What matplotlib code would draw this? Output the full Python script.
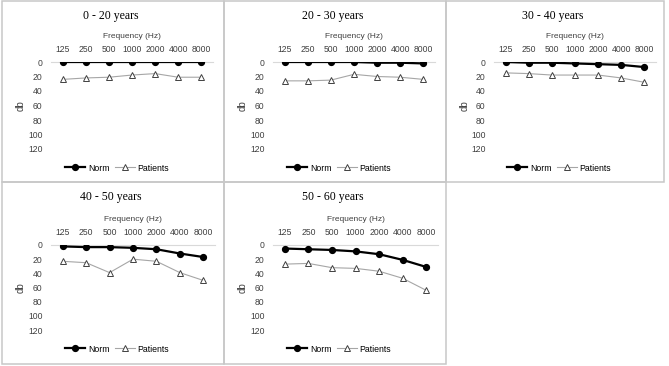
import matplotlib
matplotlib.use("Agg")
import matplotlib.pyplot as plt
from matplotlib.patches import Rectangle
from matplotlib.lines import Line2D

W, H = 669, 366

freqs = ["125", "250", "500", "1000", "2000", "4000", "8000"]
titles = ["0 - 20 years", "20 - 30 years", "30 - 40 years", "40 - 50 years", "50 - 60 years"]

norm_0_20 = [0, 0, 0, 0, 0, 0, 0]
pat_0_20 = [24, 22, 21, 18, 16, 21, 21]
norm_20_30 = [0, 0, 0, 0, 1, 1, 2]
pat_20_30 = [26, 26, 25, 17, 20, 21, 24]
norm_30_40 = [0, 1, 1, 2, 3, 4, 7]
pat_30_40 = [15, 16, 18, 18, 18, 22, 28]
norm_40_50 = [2, 3, 3, 4, 6, 12, 17]
pat_40_50 = [23, 25, 39, 20, 23, 39, 50]
norm_50_60 = [5, 6, 7, 9, 13, 21, 31]
pat_50_60 = [27, 26, 32, 33, 37, 47, 64]

norm_all = [norm_0_20, norm_20_30, norm_30_40, norm_40_50, norm_50_60]
pat_all = [pat_0_20, pat_20_30, pat_30_40, pat_40_50, pat_50_60]

# panel boxes in pixels: (left, top, right, bottom)
boxes = [(2, 1, 224, 182), (224, 1, 446, 182), (446, 1, 664, 182),
         (2, 182, 224, 364), (224, 182, 446, 364)]
# plot area in pixels: (left, top of 0-line, right, y of 120)
plots = [(51, 62, 213, 149), (273, 62, 435, 149), (494, 62, 656, 149),
         (51, 245, 215, 330), (273, 245, 438, 330)]

fig = plt.figure(figsize=(W / 100, H / 100), dpi=100)

def fx(px):
    return px / W

def fy(py):
    return 1 - py / H

for i in range(5):
    bl, bt, br, bb = boxes[i]
    fig.add_artist(Rectangle((fx(bl), fy(bb)), fx(br - bl), (bb - bt) / H,
                             transform=fig.transFigure, fill=False,
                             ec="#c8c8c8", lw=1.1))

    l, t, r, b = plots[i]
    ax = fig.add_axes([fx(l), fy(b), fx(r - l), (b - t) / H])
    x = range(len(freqs))
    ax.plot(x, norm_all[i], color="black", lw=1.6, marker="o", ms=4.2,
            zorder=3)
    ax.plot(x, pat_all[i], color="#a6a6a6", lw=0.8, marker="^", ms=4.2,
            mfc="white", mec="#404040", mew=0.7, zorder=2)
    ax.set_xlim(-0.5, 6.5)
    ax.set_ylim(120, 0)
    ax.set_yticks([0, 20, 40, 60, 80, 100, 120])
    ax.set_xticks(list(x))
    ax.set_xticklabels(freqs)
    ax.xaxis.tick_top()
    ax.xaxis.set_label_position("top")
    ax.set_xlabel("Frequency (Hz)", fontsize=6, family="Liberation Sans",
                  color="#404040", labelpad=5)
    ax.tick_params(length=0, labelsize=6.2, colors="#404040", pad=6)
    for lab in ax.get_xticklabels() + ax.get_yticklabels():
        lab.set_family("Liberation Sans")
    for s in ["left", "right", "bottom"]:
        ax.spines[s].set_visible(False)
    ax.spines["top"].set_color("#d9d9d9")
    ax.spines["top"].set_linewidth(0.8)
    ax.patch.set_alpha(0)

    cx = (bl + br) / 2
    fig.text(fx(cx - 2), fy(bt + 15), titles[i], ha="center", va="center",
             fontsize=8.5, family="Liberation Serif")
    fig.text(fx(bl + 19), fy((t + b) / 2), "db", rotation=90, ha="center",
             va="center", fontsize=7, family="Liberation Sans", color="#404040")

    handles = [Line2D([], [], color="black", lw=1.6, marker="o", ms=4.2),
               Line2D([], [], color="#a6a6a6", lw=0.8, marker="^", ms=4.2,
                      mfc="white", mec="#404040", mew=0.7)]
    fig.legend(handles, ["Norm", "Patients"], loc="center",
               bbox_to_anchor=(fx(cx + 4), fy(bt + 167)), ncol=2,
               frameon=False, handlelength=2.3,
               columnspacing=0.6, handletextpad=0.3,
               prop={"family": "Liberation Sans", "size": 6.3})

fig.savefig("out.png", dpi=100)
